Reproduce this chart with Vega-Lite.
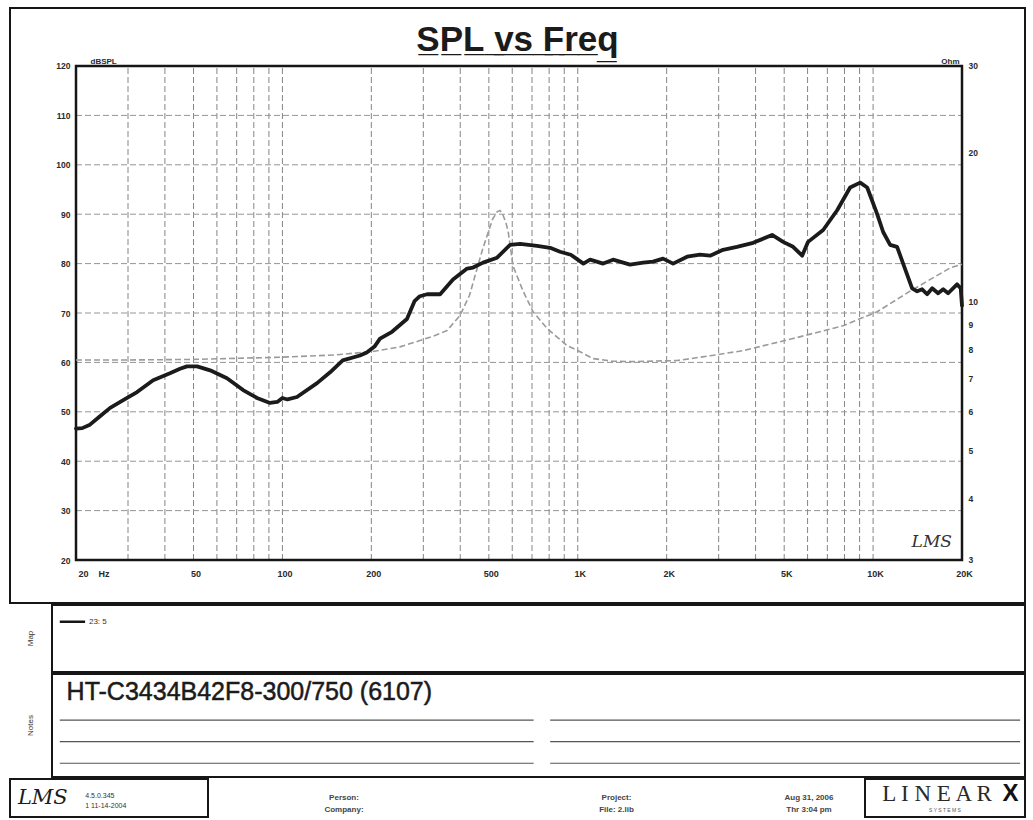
{
  "$schema": "https://vega.github.io/schema/vega-lite/v6.json",
  "background": "white",
  "padding": {"left": 9, "top": 7, "right": 4, "bottom": 2},
  "spacing": 0,
  "config": {
    "font": "Liberation Sans",
    "view": {"stroke": "#161616", "strokeWidth": 2},
    "text": {"color": "#1e1e1e"}
  },
  "datasets": {
    "spl": [
      {"f": 20, "db": 46.6}, {"f": 21, "db": 46.7}, {"f": 22.3, "db": 47.4}, {"f": 24, "db": 49.0},
      {"f": 26.1, "db": 50.8}, {"f": 29, "db": 52.4}, {"f": 32.2, "db": 54.0}, {"f": 36.5, "db": 56.4},
      {"f": 41.6, "db": 57.8}, {"f": 45, "db": 58.7}, {"f": 47.5, "db": 59.2}, {"f": 51.4, "db": 59.2},
      {"f": 56.9, "db": 58.4}, {"f": 64.9, "db": 56.8}, {"f": 73.6, "db": 54.4}, {"f": 82, "db": 52.8},
      {"f": 90.8, "db": 51.8}, {"f": 96, "db": 52.0}, {"f": 100, "db": 52.8}, {"f": 104, "db": 52.5},
      {"f": 112, "db": 53.0}, {"f": 131, "db": 55.8}, {"f": 145, "db": 58.0}, {"f": 160, "db": 60.4},
      {"f": 183, "db": 61.4}, {"f": 193, "db": 62.0}, {"f": 205, "db": 63.2}, {"f": 214, "db": 64.8},
      {"f": 235, "db": 66.2}, {"f": 264, "db": 68.8}, {"f": 280, "db": 72.4}, {"f": 292, "db": 73.4},
      {"f": 309, "db": 73.8}, {"f": 342, "db": 73.8}, {"f": 378, "db": 76.8}, {"f": 422, "db": 79.0},
      {"f": 442, "db": 79.2}, {"f": 478, "db": 80.2}, {"f": 533, "db": 81.2}, {"f": 590, "db": 83.8},
      {"f": 638, "db": 84.0}, {"f": 728, "db": 83.6}, {"f": 806, "db": 83.2}, {"f": 871, "db": 82.4},
      {"f": 947, "db": 81.8}, {"f": 1045, "db": 80.0}, {"f": 1101, "db": 80.8}, {"f": 1219, "db": 80.0},
      {"f": 1317, "db": 80.8}, {"f": 1503, "db": 79.8}, {"f": 1664, "db": 80.2}, {"f": 1799, "db": 80.4},
      {"f": 1945, "db": 81.0}, {"f": 2103, "db": 80.0}, {"f": 2346, "db": 81.4}, {"f": 2594, "db": 81.8},
      {"f": 2806, "db": 81.6}, {"f": 3105, "db": 82.8}, {"f": 3459, "db": 83.4}, {"f": 3925, "db": 84.2},
      {"f": 4550, "db": 85.8}, {"f": 4957, "db": 84.4}, {"f": 5359, "db": 83.4}, {"f": 5752, "db": 81.6},
      {"f": 6024, "db": 84.4}, {"f": 6776, "db": 86.8}, {"f": 7557, "db": 90.8}, {"f": 8361, "db": 95.4},
      {"f": 9041, "db": 96.4}, {"f": 9551, "db": 95.4}, {"f": 10323, "db": 90.0}, {"f": 10817, "db": 86.4},
      {"f": 11421, "db": 83.8}, {"f": 12056, "db": 83.4}, {"f": 12640, "db": 80.0}, {"f": 13557, "db": 75.0},
      {"f": 14100, "db": 74.4}, {"f": 14660, "db": 74.8}, {"f": 15240, "db": 73.8}, {"f": 15850, "db": 75.0},
      {"f": 16600, "db": 74.0}, {"f": 17270, "db": 74.8}, {"f": 17950, "db": 74.0}, {"f": 19240, "db": 75.8},
      {"f": 19800, "db": 75.0}, {"f": 20000, "db": 71.5}
    ],
    "impedance": [
      {"f": 20, "ohm": 7.62}, {"f": 30, "ohm": 7.62}, {"f": 50, "ohm": 7.64}, {"f": 100, "ohm": 7.72},
      {"f": 150, "ohm": 7.8}, {"f": 200, "ohm": 7.92}, {"f": 250, "ohm": 8.1}, {"f": 292, "ohm": 8.34},
      {"f": 330, "ohm": 8.55}, {"f": 361, "ohm": 8.74}, {"f": 399, "ohm": 9.37}, {"f": 430, "ohm": 10.3},
      {"f": 456, "ohm": 11.66}, {"f": 475, "ohm": 12.7}, {"f": 493, "ohm": 13.6}, {"f": 515, "ohm": 14.7},
      {"f": 533, "ohm": 15.2}, {"f": 545, "ohm": 15.3}, {"f": 555, "ohm": 15.1}, {"f": 570, "ohm": 14.5},
      {"f": 581, "ohm": 13.9}, {"f": 604, "ohm": 11.8}, {"f": 653, "ohm": 10.5}, {"f": 706, "ohm": 9.54},
      {"f": 788, "ohm": 8.82}, {"f": 920, "ohm": 8.15}, {"f": 1018, "ohm": 7.92}, {"f": 1126, "ohm": 7.67},
      {"f": 1300, "ohm": 7.58}, {"f": 1503, "ohm": 7.56}, {"f": 2169, "ohm": 7.6}, {"f": 2806, "ohm": 7.77},
      {"f": 3630, "ohm": 7.96}, {"f": 5359, "ohm": 8.42}, {"f": 7913, "ohm": 8.94}, {"f": 10323, "ohm": 9.54},
      {"f": 13340, "ohm": 10.5}, {"f": 18230, "ohm": 11.7}, {"f": 20000, "ohm": 11.9}
    ],
    "vgrid": [
      {"f": 30}, {"f": 40}, {"f": 50}, {"f": 60}, {"f": 70}, {"f": 80}, {"f": 90}, {"f": 100},
      {"f": 200}, {"f": 300}, {"f": 400}, {"f": 500}, {"f": 600}, {"f": 700}, {"f": 800}, {"f": 900}, {"f": 1000},
      {"f": 2000}, {"f": 3000}, {"f": 4000}, {"f": 5000}, {"f": 6000}, {"f": 7000}, {"f": 8000}, {"f": 9000}, {"f": 10000}
    ],
    "hgrid": [
      {"db": 30}, {"db": 40}, {"db": 50}, {"db": 60}, {"db": 70}, {"db": 80}, {"db": 90}, {"db": 100}, {"db": 110}
    ]
  },
  "vconcat": [
    {
      "width": 1015,
      "height": 595,
      "title": {
        "text": "S\u0332P\u0332L\u0332 \u0332v\u0332s\u0332 \u0332F\u0332r\u0332e\u0332q\u0332",
        "fontSize": 35,
        "fontWeight": "bold",
        "font": "Liberation Sans",
        "anchor": "middle",
        "frame": "group",
        "offset": -50,
        "color": "#1b1b1b"
      },
      "layer": [
        {
          "data": {"name": "vgrid"},
          "mark": {"type": "rule", "color": "#858585", "strokeWidth": 1, "strokeDash": [6, 3]},
          "encoding": {
            "x": {"field": "f", "type": "quantitative", "scale": {"type": "log", "domain": [11.955, 32686], "nice": false}, "axis": null},
            "y": {"datum": 20, "type": "quantitative", "scale": {"domain": [11.3, 131.74], "nice": false, "zero": false}, "axis": null},
            "y2": {"datum": 120}
          }
        },
        {
          "data": {"name": "hgrid"},
          "mark": {"type": "rule", "color": "#959595", "strokeWidth": 1, "strokeDash": [6, 3]},
          "encoding": {
            "y": {"field": "db", "type": "quantitative", "scale": {"domain": [11.3, 131.74], "nice": false, "zero": false}, "axis": null},
            "x": {"datum": 20, "type": "quantitative", "scale": {"type": "log", "domain": [11.955, 32686], "nice": false}, "axis": null},
            "x2": {"datum": 20000}
          }
        },
        {
          "data": {"values": [{"part": "plot frame"}]},
          "mark": {"type": "rect", "filled": false, "color": "#161616", "strokeWidth": 2.5},
          "encoding": {
            "x": {"datum": 20, "type": "quantitative", "scale": {"type": "log", "domain": [11.955, 32686], "nice": false}, "axis": null},
            "x2": {"datum": 20000},
            "y": {"datum": 20, "type": "quantitative", "scale": {"domain": [11.3, 131.74], "nice": false, "zero": false}, "axis": null},
            "y2": {"datum": 120}
          }
        },
        {
          "data": {"values": [{"logo": "LMS"}]},
          "mark": {"type": "text", "font": "DejaVu Serif", "fontStyle": "italic", "fontSize": 17, "color": "#333333"},
          "encoding": {
            "x": {"datum": 15800, "type": "quantitative", "scale": {"type": "log", "domain": [11.955, 32686], "nice": false}, "axis": null},
            "y": {"datum": 23.6, "type": "quantitative", "scale": {"domain": [11.3, 131.74], "nice": false, "zero": false}, "axis": null},
            "text": {"field": "logo"}
          }
        },
        {
          "data": {"name": "impedance"},
          "mark": {"type": "line", "color": "#9b9b9b", "strokeWidth": 1.6, "strokeDash": [6, 3]},
          "encoding": {
            "x": {"field": "f", "type": "quantitative", "scale": {"type": "log", "domain": [11.955, 32686], "nice": false}, "axis": null},
            "y": {
              "field": "ohm", "type": "quantitative",
              "scale": {"type": "log", "domain": [2.455, 39.3], "nice": false},
              "axis": {
                "orient": "right", "offset": -63,
                "values": [3, 4, 5, 6, 7, 8, 9, 10, 20, 30],
                "format": "d",
                "domain": false, "ticks": false, "grid": false,
                "labelFont": "Liberation Sans Narrow, Liberation Sans, sans-serif",
                "labelFontSize": 8.5, "labelFontWeight": "bold", "labelColor": "#2a2a2a",
                "labelPadding": 6, "labelFlush": false, "labelOverlap": false, "labelBound": false,
                "title": "Ohm", "titleAngle": 0, "titleAlign": "right", "titleBaseline": "alphabetic",
                "titleX": -3, "titleY": 55, "titleFontSize": 8, "titleFontWeight": "bold", "titleColor": "#2a2a2a",
                "titleFont": "Liberation Sans Narrow, Liberation Sans, sans-serif"
              }
            }
          }
        },
        {
          "data": {"name": "spl"},
          "mark": {"type": "line", "color": "#1b1b1b", "strokeWidth": 3.8, "strokeJoin": "round", "strokeCap": "round"},
          "encoding": {
            "x": {
              "field": "f", "type": "quantitative",
              "scale": {"type": "log", "domain": [11.955, 32686], "nice": false},
              "axis": {
                "orient": "bottom", "offset": -43,
                "values": [20, 50, 100, 200, 500, 1000, 2000, 5000, 10000, 20000],
                "labelExpr": "datum.value == 20 ? '\u00a020\u00a0\u00a0\u00a0\u00a0Hz' : datum.value >= 1000 ? format(datum.value / 1000, 'd') + 'K' : format(datum.value, 'd')",
                "labelAlign": {"condition": {"test": "datum.value == 20", "value": "left"}, "value": "center"},
                "labelOffset": 2,
                "domain": false, "ticks": false, "grid": false, "title": null,
                "labelFont": "Liberation Sans Narrow, Liberation Sans, sans-serif",
                "labelFontSize": 9, "labelFontWeight": "bold", "labelColor": "#2a2a2a",
                "labelPadding": 9, "labelFlush": false, "labelOverlap": false, "labelBound": false
              }
            },
            "y": {
              "field": "db", "type": "quantitative",
              "scale": {"domain": [11.3, 131.74], "nice": false, "zero": false},
              "axis": {
                "orient": "left", "offset": -66,
                "values": [20, 30, 40, 50, 60, 70, 80, 90, 100, 110, 120],
                "domain": false, "ticks": false, "grid": false,
                "labelFont": "Liberation Sans Narrow, Liberation Sans, sans-serif",
                "labelFontSize": 8.5, "labelFontWeight": "bold", "labelColor": "#2a2a2a",
                "labelPadding": 6, "labelFlush": false, "labelOverlap": false, "labelBound": false,
                "title": "dBSPL", "titleAngle": 0, "titleAlign": "left", "titleBaseline": "alphabetic",
                "titleX": 14, "titleY": 55, "titleFontSize": 8, "titleFontWeight": "bold", "titleColor": "#2a2a2a",
                "titleFont": "Liberation Sans Narrow, Liberation Sans, sans-serif"
              }
            }
          }
        }
      ],
      "resolve": {"scale": {"x": "independent", "y": "independent"}}
    },
    {
      "spacing": 0,
      "bounds": "flush",
      "hconcat": [
        {
          "width": 42, "height": 67,
          "data": {"values": [{"label": "Map"}]},
          "mark": {"type": "text", "angle": 270, "fontSize": 8, "color": "#333333"},
          "encoding": {"text": {"field": "label"}}
        },
        {
          "width": 973, "height": 67,
          "data": {"values": [{"series": "23: 5"}]},
          "layer": [
            {
              "mark": {"type": "rule", "color": "#161616", "strokeWidth": 2.5},
              "encoding": {
                "x": {"datum": 0.8, "type": "quantitative", "scale": {"domain": [0, 100], "nice": false, "zero": false}, "axis": null},
                "x2": {"datum": 3.4},
                "y": {"datum": 75, "type": "quantitative", "scale": {"domain": [0, 100], "nice": false, "zero": false}, "axis": null}
              }
            },
            {
              "mark": {"type": "text", "align": "left", "baseline": "middle", "fontSize": 8, "color": "#333333"},
              "encoding": {
                "x": {"datum": 3.8, "type": "quantitative", "scale": {"domain": [0, 100], "nice": false, "zero": false}, "axis": null},
                "y": {"datum": 75, "type": "quantitative", "scale": {"domain": [0, 100], "nice": false, "zero": false}, "axis": null},
                "text": {"field": "series"}
              }
            }
          ]
        }
      ]
    },
    {
      "spacing": 0,
      "bounds": "flush",
      "hconcat": [
        {
          "width": 42, "height": 103,
          "data": {"values": [{"label": "Notes"}]},
          "mark": {"type": "text", "angle": 270, "fontSize": 8, "color": "#333333"},
          "encoding": {"text": {"field": "label"}}
        },
        {
          "width": 973, "height": 103,
          "layer": [
            {
              "data": {"values": [{"row": 1}, {"row": 2}, {"row": 3}]},
              "mark": {"type": "rule", "color": "#555555", "strokeWidth": 1.2},
              "encoding": {
                "x": {"datum": 0.8, "type": "quantitative", "scale": {"domain": [0, 100], "nice": false, "zero": false}, "axis": null},
                "x2": {"datum": 49.5},
                "y": {"field": "row", "type": "quantitative", "scale": {"domain": [-1.136, 3.636], "reverse": true, "nice": false, "zero": false}, "axis": null}
              }
            },
            {
              "data": {"values": [{"row": 1}, {"row": 2}, {"row": 3}]},
              "mark": {"type": "rule", "color": "#555555", "strokeWidth": 1.2},
              "encoding": {
                "x": {"datum": 51.2, "type": "quantitative", "scale": {"domain": [0, 100], "nice": false, "zero": false}, "axis": null},
                "x2": {"datum": 99.5},
                "y": {"field": "row", "type": "quantitative", "scale": {"domain": [-1.136, 3.636], "reverse": true, "nice": false, "zero": false}, "axis": null}
              }
            },
            {
              "data": {"values": [{"note": "HT-C3434B42F8-300/750  (6107)"}]},
              "mark": {"type": "text", "align": "left", "baseline": "alphabetic", "fontSize": 25, "color": "#1b1b1b", "stroke": "#1b1b1b", "strokeWidth": 0.5},
              "encoding": {
                "x": {"datum": 1.5, "type": "quantitative", "scale": {"domain": [0, 100], "nice": false, "zero": false}, "axis": null},
                "y": {"datum": 0.09, "type": "quantitative", "scale": {"domain": [-1.136, 3.636], "reverse": true, "nice": false, "zero": false}, "axis": null},
                "text": {"field": "note"}
              }
            }
          ]
        }
      ]
    },
    {
      "spacing": 0,
      "bounds": "flush",
      "hconcat": [
        {
          "width": 198, "height": 38,
          "layer": [
            {
              "data": {"values": [{"logo": "LMS"}]},
              "mark": {"type": "text", "align": "left", "baseline": "middle", "font": "DejaVu Serif", "fontStyle": "italic", "fontSize": 21, "color": "#1b1b1b"},
              "encoding": {
                "x": {"datum": 4, "type": "quantitative", "scale": {"domain": [0, 100], "nice": false, "zero": false}, "axis": null},
                "y": {"datum": 50, "type": "quantitative", "scale": {"domain": [0, 100], "nice": false, "zero": false}, "axis": null},
                "text": {"field": "logo"}
              }
            },
            {
              "data": {"values": [{"version": ["4.5.0.345", "1   11-14-2004"]}]},
              "mark": {"type": "text", "align": "left", "baseline": "middle", "fontSize": 7, "lineHeight": 10, "color": "#333333"},
              "encoding": {
                "x": {"datum": 38, "type": "quantitative", "scale": {"domain": [0, 100], "nice": false, "zero": false}, "axis": null},
                "y": {"datum": 55, "type": "quantitative", "scale": {"domain": [0, 100], "nice": false, "zero": false}, "axis": null},
                "text": {"field": "version"}
              }
            }
          ]
        },
        {
          "width": 272, "height": 38,
          "data": {"values": [{"lines": ["Person:", "Company:"]}]},
          "mark": {"type": "text", "baseline": "middle", "fontSize": 8, "lineHeight": 12, "fontWeight": "bold", "color": "#444444"},
          "encoding": {"text": {"field": "lines"}}
        },
        {
          "width": 273, "height": 38,
          "data": {"values": [{"lines": ["Project:", "File: 2.lib"]}]},
          "mark": {"type": "text", "baseline": "middle", "fontSize": 8, "lineHeight": 12, "fontWeight": "bold", "color": "#444444"},
          "encoding": {"text": {"field": "lines"}}
        },
        {
          "width": 112, "height": 38,
          "data": {"values": [{"lines": ["Aug 31, 2006", "Thr  3:04 pm"]}]},
          "mark": {"type": "text", "baseline": "middle", "fontSize": 8, "lineHeight": 12, "fontWeight": "bold", "color": "#444444"},
          "encoding": {"text": {"field": "lines"}}
        },
        {
          "width": 160, "height": 38,
          "layer": [
            {
              "data": {"values": [{"brand": "L I N E A R"}]},
              "mark": {"type": "text", "align": "center", "baseline": "middle", "font": "Liberation Serif", "fontSize": 23, "color": "#2a2a2a"},
              "encoding": {
                "x": {"datum": 45, "type": "quantitative", "scale": {"domain": [0, 100], "nice": false, "zero": false}, "axis": null},
                "y": {"datum": 60, "type": "quantitative", "scale": {"domain": [0, 100], "nice": false, "zero": false}, "axis": null},
                "text": {"field": "brand"}
              }
            },
            {
              "data": {"values": [{"brand": "X"}]},
              "mark": {"type": "text", "align": "center", "baseline": "middle", "fontSize": 24, "fontWeight": "bold", "color": "#111111"},
              "encoding": {
                "x": {"datum": 91, "type": "quantitative", "scale": {"domain": [0, 100], "nice": false, "zero": false}, "axis": null},
                "y": {"datum": 60, "type": "quantitative", "scale": {"domain": [0, 100], "nice": false, "zero": false}, "axis": null},
                "text": {"field": "brand"}
              }
            },
            {
              "data": {"values": [{"brand": "S    Y    S    T    E    M    S"}]},
              "mark": {"type": "text", "align": "center", "baseline": "middle", "fontSize": 5, "color": "#555555"},
              "encoding": {
                "x": {"datum": 50, "type": "quantitative", "scale": {"domain": [0, 100], "nice": false, "zero": false}, "axis": null},
                "y": {"datum": 18, "type": "quantitative", "scale": {"domain": [0, 100], "nice": false, "zero": false}, "axis": null},
                "text": {"field": "brand"}
              }
            }
          ]
        }
      ]
    }
  ]
}
